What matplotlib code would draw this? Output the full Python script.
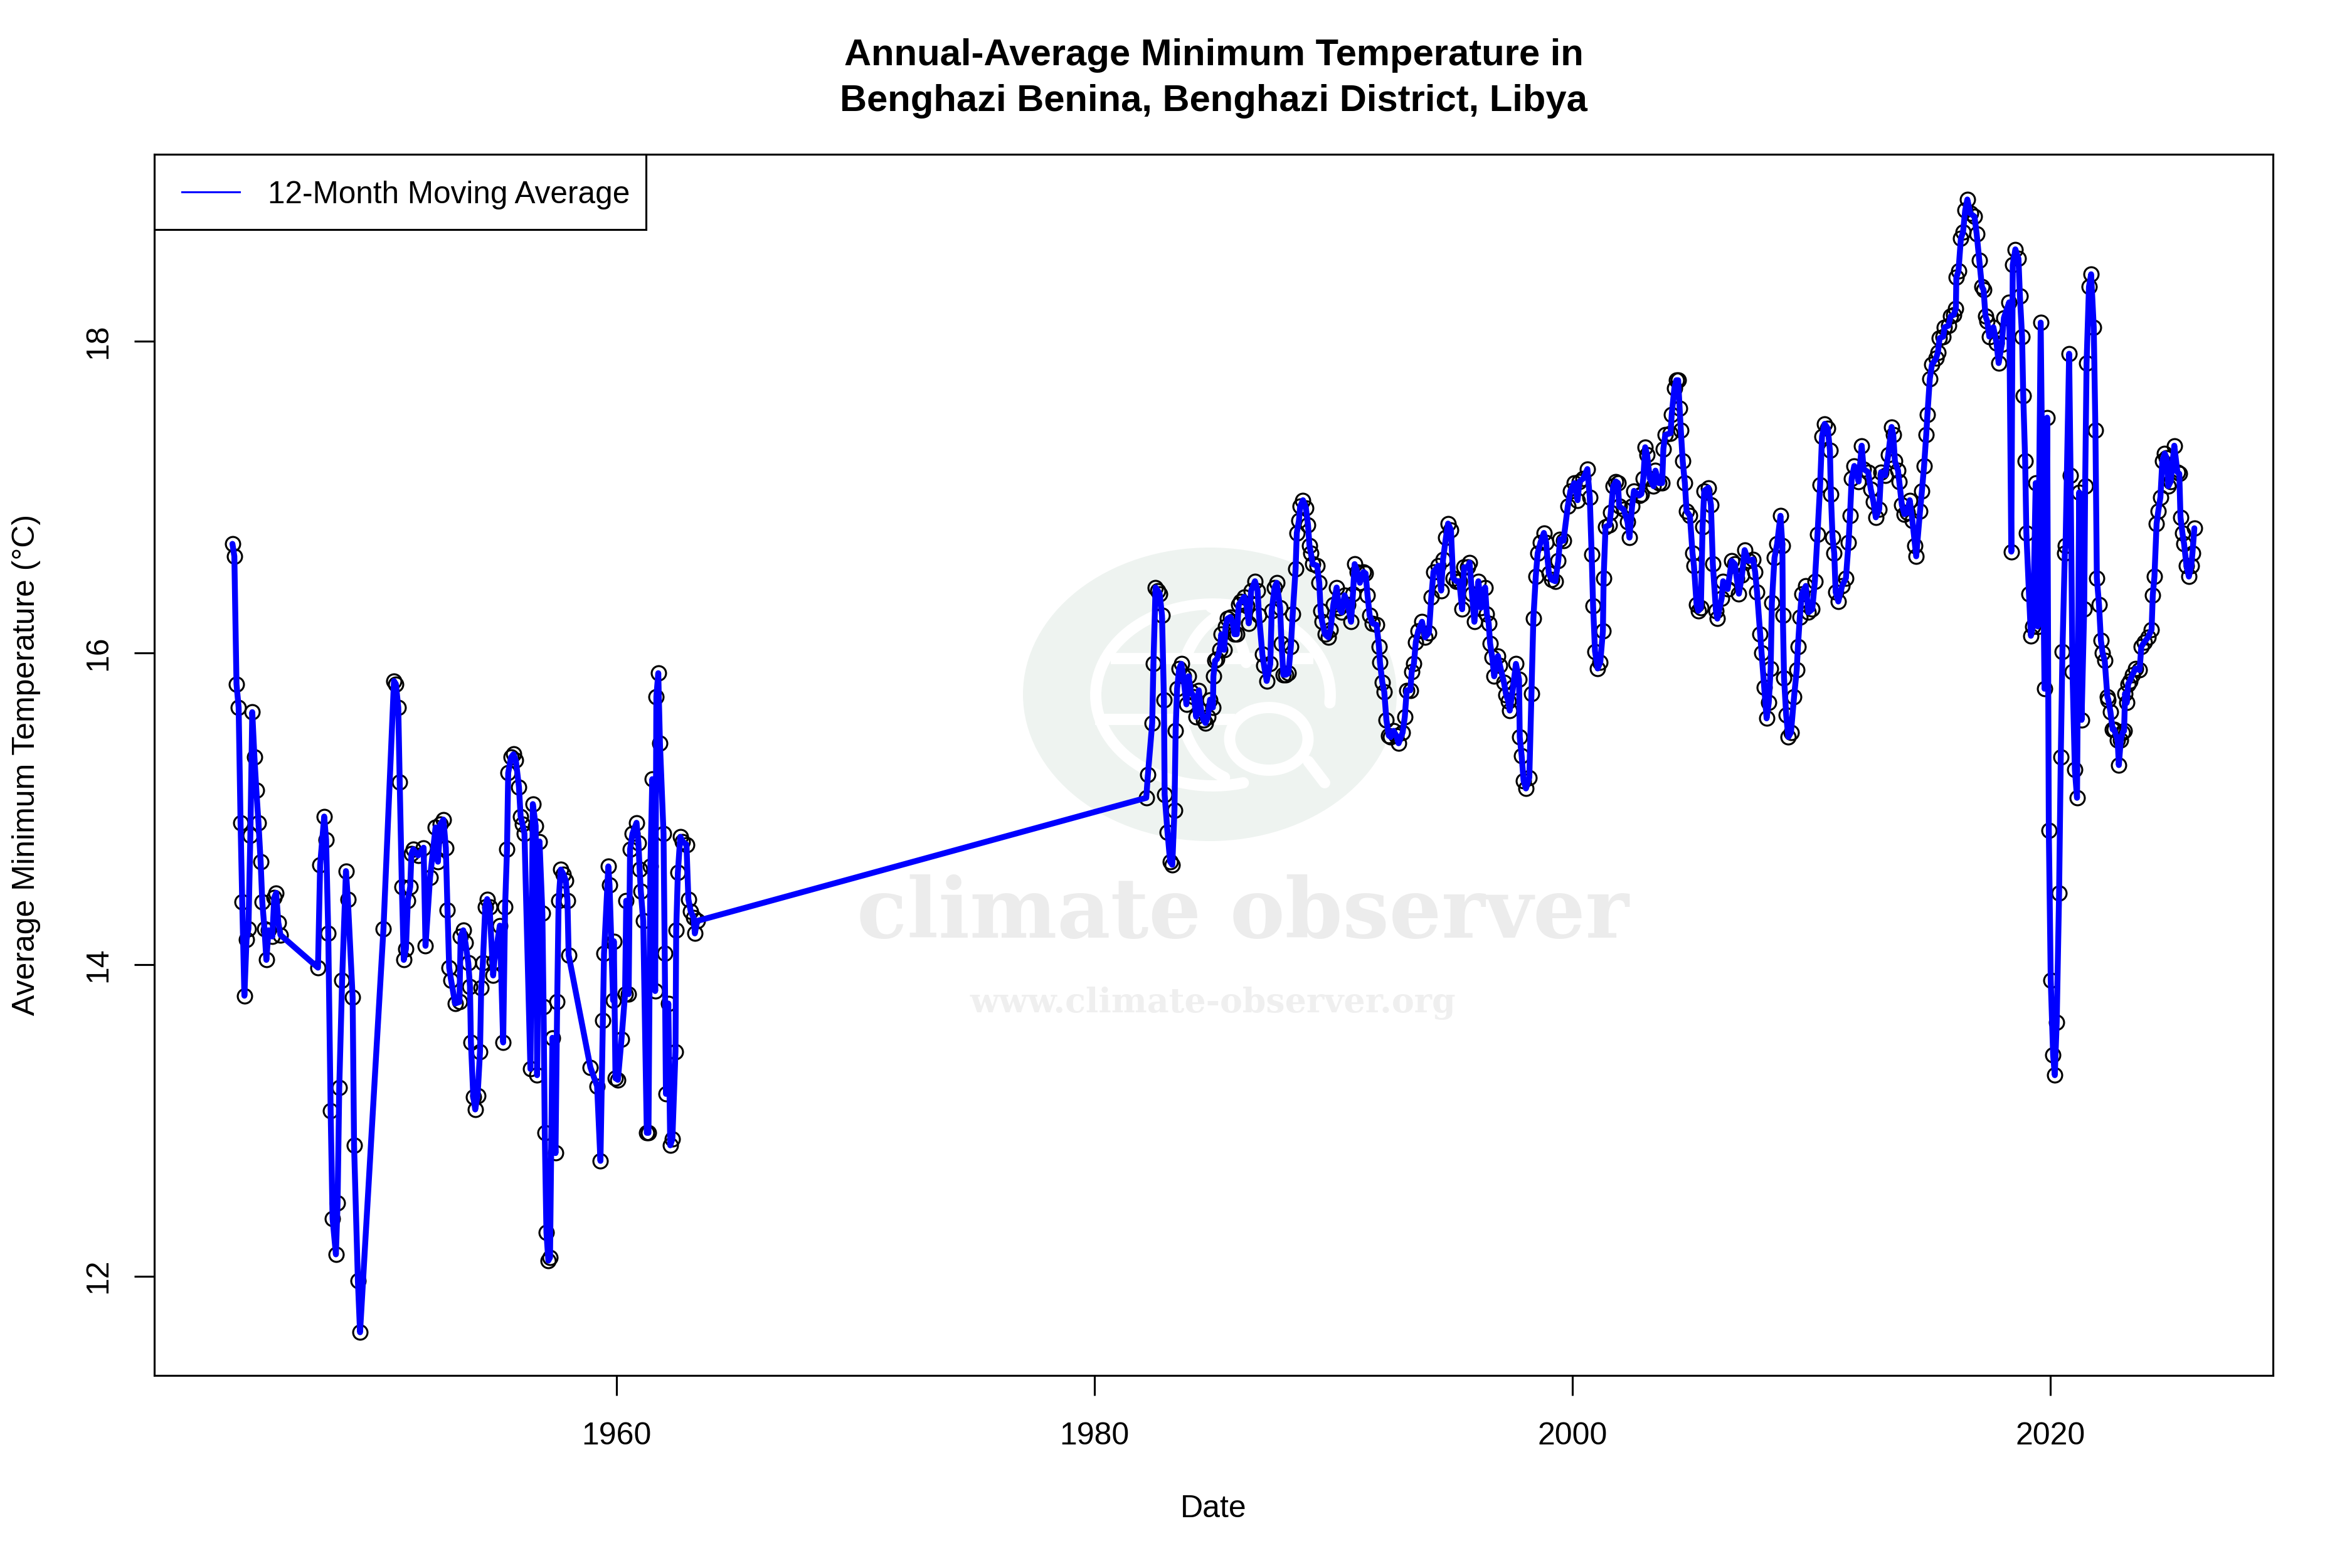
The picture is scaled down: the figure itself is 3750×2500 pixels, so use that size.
import numpy as np
from matplotlib import pyplot as plt
from matplotlib.patches import Ellipse, Rectangle

plt.rcParams['font.family'] = ['Liberation Sans', 'DejaVu Sans']

# values, decimal years and deg C
dates_1944 = [1943.93, 1944.01, 1944.10, 1944.19, 1944.27, 1944.34, 1944.43, 1944.52, 1944.60, 1944.68, 1944.76, 1944.85, 1944.93, 1945.02, 1945.11, 1945.18, 1945.27, 1945.35, 1945.44, 1945.60, 1945.68, 1945.76, 1945.85, 1945.94, 1947.51, 1947.60, 1947.77, 1947.85, 1947.94, 1948.04, 1948.12, 1948.26, 1948.33, 1948.40, 1948.52, 1948.68, 1948.76, 1948.96, 1949.02, 1949.18, 1949.27, 1950.25]
temps_1944 = [16.70, 16.62, 15.80, 15.65, 14.91, 14.40, 13.80, 14.16, 14.23, 14.83, 15.62, 15.33, 15.12, 14.91, 14.66, 14.40, 14.23, 14.03, 14.22, 14.18, 14.43, 14.46, 14.27, 14.19, 13.98, 14.64, 14.95, 14.80, 14.20, 13.06, 12.37, 12.14, 12.47, 13.21, 13.90, 14.60, 14.42, 13.79, 12.84, 11.97, 11.64, 14.23]

dates_1950 = [1950.69, 1950.77, 1950.87, 1950.93, 1951.02, 1951.10, 1951.19, 1951.27, 1951.37, 1951.42, 1951.50, 1951.70, 1951.93, 1952.01, 1952.20, 1952.43, 1952.53, 1952.63, 1952.76, 1952.86, 1952.93, 1953.00, 1953.08, 1953.25, 1953.43, 1953.48, 1953.59, 1953.68, 1953.80, 1953.87, 1953.91, 1954.01, 1954.09, 1954.19, 1954.29, 1954.34, 1954.41, 1954.51, 1954.59, 1954.69, 1954.84, 1954.89, 1955.12, 1955.26, 1955.34, 1955.42, 1955.47, 1955.59, 1955.69, 1955.79, 1955.92, 1955.99, 1956.07, 1956.15, 1956.40, 1956.50, 1956.62, 1956.68, 1956.78, 1956.90, 1956.95, 1957.00, 1957.07, 1957.15, 1957.22, 1957.32, 1957.45, 1957.52, 1957.58, 1957.67, 1957.78, 1957.88, 1957.95, 1958.00]
temps_1950 = [15.82, 15.80, 15.65, 15.17, 14.50, 14.03, 14.10, 14.41, 14.50, 14.71, 14.74, 14.70, 14.75, 14.12, 14.56, 14.88, 14.66, 14.90, 14.93, 14.75, 14.35, 13.98, 13.90, 13.75, 13.76, 14.18, 14.22, 14.14, 14.01, 13.86, 13.50, 13.15, 13.07, 13.16, 13.44, 13.85, 14.01, 14.37, 14.42, 14.37, 13.93, 14.02, 14.25, 13.50, 14.37, 14.74, 15.23, 15.33, 15.35, 15.31, 15.14, 14.95, 14.90, 14.84, 13.33, 15.03, 14.89, 13.29, 14.79, 14.33, 13.73, 12.92, 12.28, 12.10, 12.12, 13.53, 12.79, 13.76, 14.41, 14.61, 14.58, 14.54, 14.41, 14.06]

dates_1958 = [1958.91, 1959.19, 1959.33, 1959.43, 1959.48, 1959.66, 1959.71, 1959.86, 1959.89, 1959.96, 1960.06, 1960.21, 1960.36, 1960.41, 1960.51, 1960.57, 1960.67, 1960.84, 1960.92, 1960.97, 1961.02, 1961.12, 1961.27, 1961.34, 1961.42, 1961.50, 1961.62, 1961.67, 1961.75, 1961.82, 1961.97, 1962.02, 1962.07, 1962.17, 1962.25, 1962.34, 1962.47, 1962.50, 1962.57, 1962.67, 1962.77, 1962.93, 1963.01, 1963.11, 1963.23, 1963.28, 1963.38]
temps_1958 = [13.34, 13.22, 12.74, 13.64, 14.07, 14.63, 14.51, 13.77, 14.15, 13.27, 13.26, 13.52, 13.81, 14.41, 13.81, 14.74, 14.84, 14.91, 14.78, 14.61, 14.47, 14.28, 12.92, 12.92, 14.63, 15.19, 13.83, 15.72, 15.87, 15.42, 14.84, 14.07, 13.17, 13.75, 12.84, 12.88, 13.44, 14.22, 14.59, 14.82, 14.79, 14.77, 14.42, 14.34, 14.30, 14.20, 14.28]

dates_1982 = [1982.17, 1982.24, 1982.42, 1982.47, 1982.56, 1982.65, 1982.73, 1982.83, 1982.91, 1982.94, 1983.06, 1983.17, 1983.26, 1983.35, 1983.40, 1983.46, 1983.55, 1983.64, 1983.72, 1983.85, 1983.94, 1984.04, 1984.16, 1984.26, 1984.37, 1984.47, 1984.56, 1984.65, 1984.75, 1984.84, 1984.96, 1984.98, 1985.05, 1985.13, 1985.25, 1985.31, 1985.43, 1985.49, 1985.57, 1985.69, 1985.78, 1985.86, 1985.96, 1986.04, 1986.13, 1986.27, 1986.37, 1986.46, 1986.56, 1986.72, 1986.83, 1986.89, 1987.03, 1987.10, 1987.21, 1987.36, 1987.42, 1987.54, 1987.63, 1987.77, 1987.83, 1987.91, 1988.01, 1988.12, 1988.22, 1988.30, 1988.42, 1988.47, 1988.56, 1988.61, 1988.73, 1988.85, 1988.94, 1989.00, 1989.06, 1989.14, 1989.32, 1989.41, 1989.47, 1989.53, 1989.65, 1989.79, 1989.88, 1990.00, 1990.14, 1990.23, 1990.35, 1990.47, 1990.61, 1990.74, 1990.82, 1990.89]
temps_1982 = [15.07, 15.22, 15.55, 15.93, 16.42, 16.40, 16.38, 16.24, 15.70, 15.09, 14.85, 14.66, 14.64, 14.99, 15.50, 15.77, 15.90, 15.93, 15.85, 15.67, 15.85, 15.75, 15.72, 15.59, 15.76, 15.63, 15.57, 15.55, 15.59, 15.70, 15.65, 15.85, 15.95, 15.96, 16.02, 16.12, 16.02, 16.17, 16.22, 16.23, 16.20, 16.12, 16.12, 16.31, 16.33, 16.36, 16.30, 16.19, 16.40, 16.46, 16.40, 16.24, 15.99, 15.92, 15.82, 15.93, 16.27, 16.42, 16.45, 16.29, 16.06, 15.86, 15.86, 15.87, 16.04, 16.25, 16.54, 16.77, 16.85, 16.94, 16.98, 16.93, 16.82, 16.69, 16.64, 16.57, 16.56, 16.45, 16.27, 16.20, 16.12, 16.10, 16.15, 16.31, 16.42, 16.29, 16.26, 16.37, 16.31, 16.20, 16.38, 16.57]

dates_1991 = [1991.00, 1991.11, 1991.26, 1991.35, 1991.43, 1991.52, 1991.64, 1991.81, 1991.91, 1991.95, 1992.05, 1992.13, 1992.22, 1992.32, 1992.40, 1992.52, 1992.63, 1992.73, 1992.90, 1992.99, 1993.07, 1993.22, 1993.28, 1993.37, 1993.45, 1993.55, 1993.71, 1993.84, 1994.00, 1994.10, 1994.19, 1994.39, 1994.51, 1994.59, 1994.71, 1994.80, 1994.92, 1995.01, 1995.15, 1995.27, 1995.39, 1995.47, 1995.62, 1995.70, 1995.80, 1995.90, 1996.07, 1996.18, 1996.35, 1996.42, 1996.50, 1996.56, 1996.65, 1996.73, 1996.89, 1996.97, 1997.14, 1997.23, 1997.32, 1997.38, 1997.52, 1997.64, 1997.77, 1997.80, 1997.88, 1997.96, 1998.06, 1998.20, 1998.29, 1998.37, 1998.47, 1998.55, 1998.67, 1998.81, 1998.90, 1999.02, 1999.14, 1999.29, 1999.41, 1999.49, 1999.63]
temps_1991 = [16.52, 16.45, 16.52, 16.51, 16.37, 16.24, 16.19, 16.18, 16.04, 15.94, 15.81, 15.75, 15.57, 15.47, 15.46, 15.50, 15.47, 15.42, 15.49, 15.59, 15.76, 15.76, 15.88, 15.93, 16.07, 16.14, 16.20, 16.10, 16.13, 16.36, 16.52, 16.56, 16.40, 16.60, 16.74, 16.83, 16.79, 16.48, 16.46, 16.46, 16.28, 16.55, 16.55, 16.58, 16.38, 16.20, 16.46, 16.29, 16.42, 16.25, 16.19, 16.06, 15.97, 15.85, 15.98, 15.92, 15.81, 15.73, 15.69, 15.63, 15.78, 15.93, 15.83, 15.46, 15.34, 15.18, 15.13, 15.20, 15.74, 16.22, 16.49, 16.64, 16.71, 16.77, 16.71, 16.51, 16.47, 16.46, 16.59, 16.73, 16.72]

dates_1999 = [1999.81, 1999.92, 2000.08, 2000.22, 2000.30, 2000.46, 2000.63, 2000.73, 2000.81, 2000.87, 2000.95, 2001.06, 2001.17, 2001.28, 2001.31, 2001.39, 2001.55, 2001.61, 2001.71, 2001.82, 2001.91, 2001.96, 2002.15, 2002.31, 2002.39, 2002.50, 2002.58, 2002.80, 2002.89, 2002.97, 2003.05, 2003.13, 2003.24, 2003.40, 2003.48, 2003.62, 2003.76, 2003.81, 2003.89, 2004.11, 2004.16, 2004.27, 2004.35, 2004.43, 2004.49, 2004.54, 2004.62, 2004.71, 2004.78, 2004.92, 2005.03, 2005.09, 2005.20, 2005.27, 2005.38, 2005.45, 2005.52, 2005.69, 2005.80, 2005.88, 2006.01, 2006.07, 2006.25, 2006.31, 2006.50, 2006.67, 2006.80, 2006.88, 2006.97]
temps_1999 = [16.94, 17.04, 17.09, 16.98, 17.10, 17.12, 17.18, 17.00, 16.63, 16.30, 16.01, 15.90, 15.94, 16.14, 16.48, 16.81, 16.82, 16.90, 17.07, 17.10, 17.09, 16.94, 16.92, 16.84, 16.74, 16.94, 17.04, 17.01, 17.02, 17.12, 17.32, 17.27, 17.12, 17.07, 17.17, 17.09, 17.09, 17.31, 17.40, 17.41, 17.53, 17.70, 17.75, 17.75, 17.57, 17.43, 17.23, 17.09, 16.91, 16.88, 16.64, 16.56, 16.31, 16.27, 16.29, 16.81, 17.04, 17.06, 16.95, 16.57, 16.27, 16.22, 16.35, 16.46, 16.41, 16.59, 16.57, 16.48, 16.38]

dates_2007 = [2007.10, 2007.21, 2007.37, 2007.56, 2007.65, 2007.73, 2007.86, 2007.92, 2008.03, 2008.13, 2008.22, 2008.30, 2008.35, 2008.46, 2008.57, 2008.71, 2008.79, 2008.81, 2008.86, 2008.95, 2009.04, 2009.15, 2009.28, 2009.39, 2009.44, 2009.52, 2009.60, 2009.77, 2009.88, 2010.04, 2010.15, 2010.26, 2010.37, 2010.45, 2010.56, 2010.69, 2010.78, 2010.82, 2010.89, 2010.96, 2011.02, 2011.13, 2011.29, 2011.45, 2011.56, 2011.62, 2011.69, 2011.80, 2011.98, 2012.11, 2012.19, 2012.38, 2012.49, 2012.60, 2012.70, 2012.84, 2012.92, 2013.09, 2013.22, 2013.36, 2013.43, 2013.50, 2013.63, 2013.68, 2013.79, 2013.90, 2014.01, 2014.12, 2014.23, 2014.34, 2014.39, 2014.55, 2014.63, 2014.72, 2014.81, 2014.86, 2014.96, 2015.05]
temps_2007 = [16.50, 16.66, 16.59, 16.60, 16.52, 16.39, 16.12, 16.00, 15.78, 15.58, 15.68, 15.90, 16.32, 16.61, 16.70, 16.88, 16.69, 16.24, 15.84, 15.60, 15.46, 15.49, 15.72, 15.89, 16.04, 16.23, 16.38, 16.43, 16.26, 16.28, 16.46, 16.76, 17.08, 17.39, 17.47, 17.44, 17.30, 17.02, 16.74, 16.64, 16.39, 16.33, 16.43, 16.48, 16.71, 16.88, 17.12, 17.20, 17.10, 17.33, 17.18, 17.16, 17.05, 16.97, 16.87, 16.92, 17.16, 17.14, 17.27, 17.45, 17.40, 17.23, 17.17, 17.10, 16.95, 16.89, 16.90, 16.98, 16.85, 16.69, 16.62, 16.91, 17.04, 17.20, 17.40, 17.53, 17.76, 17.85]

dates_2015 = [2015.22, 2015.30, 2015.37, 2015.52, 2015.58, 2015.74, 2015.83, 2015.96, 2016.05, 2016.07, 2016.16, 2016.26, 2016.35, 2016.44, 2016.53, 2016.66, 2016.83, 2016.92, 2017.03, 2017.14, 2017.21, 2017.29, 2017.36, 2017.45, 2017.62, 2017.75, 2017.84, 2017.97, 2018.06, 2018.28, 2018.37, 2018.43, 2018.54, 2018.67, 2018.73, 2018.82, 2018.87, 2018.95, 2019.00, 2019.11, 2019.19, 2019.28, 2019.39, 2019.48, 2019.60, 2019.76, 2019.87, 2019.94, 2020.02, 2020.12, 2020.19, 2020.27, 2020.37, 2020.44, 2020.51, 2020.61, 2020.64, 2020.79, 2020.85, 2020.93, 2021.03, 2021.12, 2021.21, 2021.31, 2021.42, 2021.46, 2021.52, 2021.62, 2021.71, 2021.82, 2021.89, 2021.95]
temps_2015 = [17.89, 17.93, 18.02, 18.03, 18.09, 18.10, 18.16, 18.17, 18.21, 18.41, 18.45, 18.66, 18.70, 18.84, 18.91, 18.82, 18.80, 18.69, 18.52, 18.35, 18.33, 18.16, 18.13, 18.03, 18.09, 17.99, 17.86, 17.98, 18.15, 18.25, 16.65, 18.49, 18.59, 18.53, 18.29, 18.03, 17.65, 17.23, 16.77, 16.38, 16.11, 16.17, 17.09, 16.17, 18.12, 15.77, 17.51, 14.86, 13.90, 13.42, 13.29, 13.63, 14.46, 15.33, 16.01, 16.64, 16.69, 17.92, 17.14, 15.88, 15.25, 15.07, 17.03, 15.57, 16.28, 17.07, 17.86, 18.35, 18.43, 18.09, 17.43, 16.48]

dates_2022 = [2022.04, 2022.12, 2022.19, 2022.28, 2022.39, 2022.43, 2022.52, 2022.61, 2022.67, 2022.82, 2022.87, 2022.95, 2023.03, 2023.09, 2023.13, 2023.20, 2023.26, 2023.33, 2023.44, 2023.57, 2023.74, 2023.81, 2023.94, 2024.09, 2024.24, 2024.29, 2024.36, 2024.45, 2024.52, 2024.61, 2024.69, 2024.79, 2024.87, 2024.94, 2025.04, 2025.19, 2025.32, 2025.40, 2025.45, 2025.53, 2025.60, 2025.70, 2025.80, 2025.90, 2025.95, 2026.03]
temps_2022 = [16.31, 16.08, 16.00, 15.95, 15.72, 15.70, 15.62, 15.51, 15.51, 15.44, 15.28, 15.44, 15.49, 15.50, 15.74, 15.68, 15.80, 15.82, 15.86, 15.90, 15.89, 16.04, 16.07, 16.10, 16.15, 16.37, 16.49, 16.83, 16.91, 17.00, 17.23, 17.28, 17.25, 17.07, 17.10, 17.33, 17.16, 17.15, 16.87, 16.77, 16.70, 16.56, 16.49, 16.56, 16.64, 16.80]

dates = dates_1944 + dates_1950 + dates_1958 + dates_1982 + dates_1991 + dates_1999 + dates_2007 + dates_2015 + dates_2022
temps = temps_1944 + temps_1950 + temps_1958 + temps_1982 + temps_1991 + temps_1999 + temps_2007 + temps_2015 + temps_2022

x_ticks = [1960, 1980, 2000, 2020]
y_ticks = [12, 14, 16, 18]
W = 3750
H = 2500

def fx(px):
    return px / W

def fy(py):
    return 1 - py / H

fig = plt.figure(figsize=(12.5, 2500 / 300), dpi=300)
ax = fig.add_axes([fx(246), fy(2193), (3624 - 246) / W, (2193 - 246) / H])

# watermark sits under the data
tf = fig.transFigure
wm_green = '#EEF3F0'
ax.add_patch(Ellipse((fx(1929), fy(1107)), 596 / W, 468 / H, transform=tf, color=wm_green, lw=0, zorder=0))

def wm_arc(cx, cy, rx, ry, t1, t2, lw):
    t = np.radians(np.linspace(t1, t2, 80))
    ax.plot(fx(cx + rx * np.cos(t)), fy(cy - ry * np.sin(t)), color='white', lw=lw, transform=tf,
            zorder=0.5, solid_capstyle='round')

wm_arc(1934, 1108, 187, 145, -5, 285, 4.3)
wm_arc(1990, 1108, 110, 140, 110, 250, 4.3)
wm_arc(1900, 1090, 90, 130, 15, 70, 4.3)
ax.plot([fx(1780), fx(2085)], [fy(1050), fy(1050)], color='white', lw=4.3, transform=tf, zorder=0.5)
ax.plot([fx(1755), fx(1960)], [fy(1147), fy(1147)], color='white', lw=4.3, transform=tf, zorder=0.5)
ax.add_patch(Ellipse((fx(2023), fy(1178)), 125 / W, 100 / H, transform=tf, facecolor=wm_green, edgecolor='white', lw=4.3, zorder=0.6))
ax.plot([fx(2086), fx(2112)], [fy(1214), fy(1248)], color='white', lw=4.3, transform=tf, zorder=0.6, solid_capstyle='round')
ax.text(fx(1981), fy(1458), 'climate observer', transform=tf, family='DejaVu Serif', weight='bold', fontsize=31.6,
        color='#ECECEC', ha='center', va='center', zorder=0.4)
ax.text(fx(1934), fy(1600), 'www.climate-observer.org', transform=tf, family='DejaVu Serif', weight='bold', fontsize=12.9,
        color='#EFEFEF', ha='center', va='center', zorder=0.4)

ax.plot(dates, temps, linestyle='none', marker='o', ms=5.5, mfc='none', mec='black', mew=0.75, zorder=2)
ax.plot(dates, temps, color='#0000FF', lw=2.25, solid_joinstyle='round', solid_capstyle='round', zorder=3)

ax.set_xlim(1940.66, 2029.32)
ax.set_ylim(11.363, 19.20)
ax.set_xticks(x_ticks)
ax.set_yticks(y_ticks)
ax.tick_params(axis='both', direction='out', length=7.7, width=0.75, labelsize=12)
ax.tick_params(axis='x', pad=10)
ax.tick_params(axis='y', pad=8)
for lab in ax.get_yticklabels():
    lab.set_rotation(90)
    lab.set_va('center')
for s in ax.spines.values():
    s.set_linewidth(0.75)

# R style legend box, narrower on the right than ax.legend allows
ax.add_patch(Rectangle((fx(246), fy(366)), (1030 - 246) / W, (366 - 246) / H, transform=tf, facecolor='white',
                       edgecolor='black', lw=0.75, zorder=4))
ax.plot([fx(290), fx(382)], [fy(306), fy(306)], color='#0000FF', lw=0.75, transform=tf, zorder=5)
ax.text(fx(427), fy(324), '12-Month Moving Average', transform=tf, fontsize=11.9, ha='left', va='baseline', zorder=5)

fig.text(fx(1935), fy(125), 'Annual-Average Minimum Temperature in\nBenghazi Benina, Benghazi District, Libya',
         ha='center', va='center', fontsize=14.35, weight='bold', linespacing=1.42)
fig.text(fx(1935), fy(2406), 'Date', ha='center', va='center', fontsize=12)
fig.text(fx(42), fy(1219), 'Average Minimum Temperature (°C)', ha='center', va='center', rotation=90, fontsize=12)

fig.savefig('out.png', dpi=300)
